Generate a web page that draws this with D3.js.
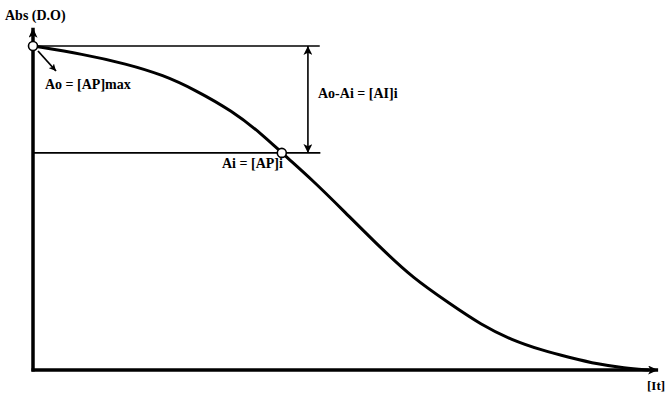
<!DOCTYPE html>
<html>
<head>
<meta charset="utf-8">
<script src="https://cdn.jsdelivr.net/npm/d3@7"></script>
<style>
  html, body { margin: 0; padding: 0; background: #fff; }
  svg { display: block; }
</style>
</head>
<body>
<svg id="chart" width="666" height="394"></svg>
<script>
// Absorbance decay curve: time (arbitrary units) vs absorbance (normalised to Ao = 1)
const time       = [0, 8, 15, 21, 26, 32, 37, 40, 45, 50, 56, 61, 67, 72, 77, 82, 86, 91, 95, 99];
const absorbance = [1.00, 0.975, 0.945, 0.91, 0.865, 0.80, 0.725, 0.67, 0.585, 0.49, 0.375, 0.285, 0.205, 0.14, 0.092, 0.06, 0.04, 0.017, 0.006, 0.0];

// Marked states
const Ao = { t: 0,  a: 1.00 };
const Ai = { t: 40, a: 0.67 };

// Texts
const yTitle    = "Abs (D.O)";
const xTitle    = "[It]";
const aoLabel   = "Ao = [AP]max";
const aiLabel   = "Ai = [AP]i";
const diffLabel = "Ao-Ai = [AI]i";

const FONT = "Times New Roman, Liberation Serif, serif";

const svg = d3.select("#chart");
const x = d3.scaleLinear().domain([0, 100]).range([33, 655]);
const y = d3.scaleLinear().domain([0, 1]).range([370, 46]);

// Arrowhead markers
const defs = svg.append("defs");
function marker(id, w, h) {
  defs.append("marker")
    .attr("id", id)
    .attr("viewBox", `0 0 ${w} ${h}`)
    .attr("refX", w).attr("refY", h / 2)
    .attr("markerWidth", w).attr("markerHeight", h)
    .attr("markerUnits", "userSpaceOnUse")
    .attr("orient", "auto-start-reverse")
    .append("path")
    .attr("d", `M0,0 L${w},${h / 2} L0,${h} L${w * 0.25},${h / 2} Z`)
    .attr("fill", "#000");
}
marker("axisHead", 10, 9);
marker("dimHead", 9, 9);
marker("ptrHead", 7, 7);

// Axes
svg.append("line")
  .attr("x1", x(0)).attr("y1", y(0) + 1.5)
  .attr("x2", x(0)).attr("y2", y(1.056))
  .attr("stroke", "#000").attr("stroke-width", 3.5)
  .attr("marker-end", "url(#axisHead)");
svg.append("line")
  .attr("x1", x(0) - 1.5).attr("y1", y(0))
  .attr("x2", x(100.5)).attr("y2", y(0))
  .attr("stroke", "#000").attr("stroke-width", 3.5)
  .attr("marker-end", "url(#axisHead)");

// Reference levels Ao and Ai
svg.append("line")
  .attr("x1", x(0)).attr("x2", x(46.1))
  .attr("y1", y(Ao.a)).attr("y2", y(Ao.a))
  .attr("stroke", "#000").attr("stroke-width", 1.6);
svg.append("line")
  .attr("x1", x(0)).attr("x2", x(46.2))
  .attr("y1", y(Ai.a)).attr("y2", y(Ai.a))
  .attr("stroke", "#000").attr("stroke-width", 1.6);

// Dimension arrow Ao - Ai
svg.append("line")
  .attr("x1", x(44.2)).attr("x2", x(44.2))
  .attr("y1", y(Ao.a)).attr("y2", y(Ai.a))
  .attr("stroke", "#000").attr("stroke-width", 1.6)
  .attr("marker-start", "url(#dimHead)")
  .attr("marker-end", "url(#dimHead)");

// Decay curve
const pts = time.map((t, i) => [t, absorbance[i]]);
svg.append("path")
  .datum(pts)
  .attr("d", d3.line().x(d => x(d[0])).y(d => y(d[1])).curve(d3.curveBasis))
  .attr("fill", "none")
  .attr("stroke", "#000")
  .attr("stroke-width", 3);

// Pointer to Ao
svg.append("line")
  .attr("x1", x(Ao.t) + 5).attr("y1", y(Ao.a) + 5)
  .attr("x2", x(Ao.t) + 23).attr("y2", y(Ao.a) + 25)
  .attr("stroke", "#000").attr("stroke-width", 1.8)
  .attr("marker-end", "url(#ptrHead)");

// Open circles at Ao and Ai
svg.selectAll("circle.mark")
  .data([Ao, Ai])
  .join("circle")
  .attr("class", "mark")
  .attr("cx", d => x(d.t)).attr("cy", d => y(d.a))
  .attr("r", 4.5)
  .attr("fill", "#fff")
  .attr("stroke", "#000")
  .attr("stroke-width", 1.6);

// Labels
const labels = [
  { text: yTitle,    x: 5,   y: 20,  size: 14 },
  { text: xTitle,    x: 647, y: 390, size: 13 },
  { text: aoLabel,   x: 45,  y: 89,  size: 14 },
  { text: aiLabel,   x: 222, y: 168, size: 14 },
  { text: diffLabel, x: 318, y: 98,  size: 14 }
];
svg.selectAll("text.label")
  .data(labels)
  .join("text")
  .attr("class", "label")
  .attr("x", d => d.x).attr("y", d => d.y)
  .style("font-family", FONT)
  .style("font-weight", "bold")
  .style("font-size", d => d.size + "px")
  .attr("fill", "#000")
  .text(d => d.text);
</script>
</body>
</html>
